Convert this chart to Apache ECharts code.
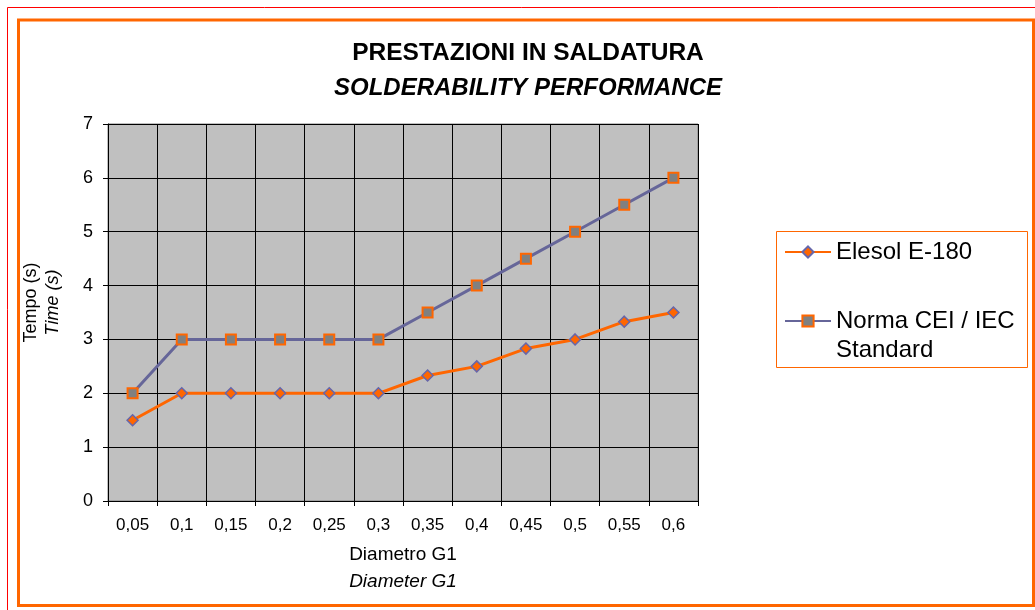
<!DOCTYPE html>
<html>
<head>
<meta charset="utf-8">
<script src="https://cdn.jsdelivr.net/npm/echarts@6/dist/echarts.min.js"></script>
<style>
  html, body { margin: 0; padding: 0; background: #fff; }
  #chart { width: 1035px; height: 610px; }
</style>
</head>
<body>
<div id="chart"></div>
<script>
const categories = ['0,05', '0,1', '0,15', '0,2', '0,25', '0,3', '0,35', '0,4', '0,45', '0,5', '0,55', '0,6']
const elesol = [1.5, 2, 2, 2, 2, 2, 2.33, 2.5, 2.83, 3, 3.33, 3.5]
const norma = [2, 3, 3, 3, 3, 3, 3.5, 4, 4.5, 5, 5.5, 6]
const seriesNames = ['Elesol E-180', 'Norma CEI / IEC Standard']

const font = 'Liberation Sans, Arial, sans-serif'
const chart = echarts.init(document.getElementById('chart'), null, { renderer: 'canvas' })

const legendText = {
  color: '#000',
  fontSize: 24,
  fontFamily: font,
  lineHeight: 29,
}

chart.setOption({
  backgroundColor: '#fff',
  animation: false,
  title: {
    text: 'PRESTAZIONI IN SALDATURA',
    subtext: 'SOLDERABILITY PERFORMANCE',
    left: 528,
    top: 41,
    textAlign: 'center',
    itemGap: 10,
    padding: 0,
    textStyle: { color: '#000', fontSize: 24.5, fontWeight: 'bold', fontFamily: font },
    subtextStyle: { color: '#000', fontSize: 24, fontWeight: 'bold', fontStyle: 'italic', fontFamily: font },
  },
  graphic: [
    // cornici esterne
    { type: 'rect', shape: { x: 7.5, y: 7.5, width: 1040, height: 620 }, style: { fill: 'none', stroke: '#FF0000', lineWidth: 1 }, silent: true },
    { type: 'rect', shape: { x: 18.5, y: 20, width: 1015, height: 585.5 }, style: { fill: 'none', stroke: '#FF6600', lineWidth: 3 }, silent: true },
    // riquadro legenda
    { type: 'rect', shape: { x: 776.5, y: 231.5, width: 251, height: 136 }, style: { fill: '#fff', stroke: '#FF6600', lineWidth: 1 }, silent: true, z: -1 },
  ],
  legend: [
    {
      data: [seriesNames[0]],
      left: 784,
      top: 237.5,
      padding: 0,
      itemWidth: 46,
      itemHeight: 14,
      itemGap: 0,
      selectedMode: false,
      textStyle: legendText,
    },
    {
      data: [seriesNames[1]],
      left: 784,
      top: 277.5,
      padding: 0,
      itemWidth: 46,
      itemHeight: 14,
      itemGap: 0,
      selectedMode: false,
      // riga vuota in testa: la prima riga di testo resta allineata al simbolo
      formatter: () => '\nNorma CEI / IEC\nStandard',
      textStyle: legendText,
    },
  ],
  grid: {
    left: 108,
    right: 337,
    top: 124,
    bottom: 109,
    show: true,
    backgroundColor: '#C0C0C0',
    borderColor: '#808080',
    borderWidth: 1,
  },
  xAxis: {
    type: 'category',
    data: categories,
    boundaryGap: true,
    name: '{a|Diametro G1}\n{b|Diameter G1}',
    nameLocation: 'middle',
    nameGap: 40,
    nameTextStyle: {
      rich: {
        a: { fontSize: 19, fontFamily: font, color: '#000', lineHeight: 27 },
        b: { fontSize: 19, fontFamily: font, color: '#000', fontStyle: 'italic', lineHeight: 27 },
      },
    },
    axisLine: { lineStyle: { color: '#000', width: 1 } },
    axisTick: { show: true, length: 5, lineStyle: { color: '#000' } },
    axisLabel: { color: '#000', fontSize: 17, fontFamily: font, margin: 16 },
    splitLine: { show: true, lineStyle: { color: '#000', width: 1 } },
  },
  yAxis: {
    type: 'value',
    min: 0,
    max: 7,
    interval: 1,
    name: '{a|Tempo (s)}\n{b|Time (s)}',
    nameLocation: 'middle',
    nameRotate: 90,
    nameGap: 45,
    nameTextStyle: {
      padding: [0, 0, 0, 20],
      rich: {
        a: { fontSize: 18, fontFamily: font, color: '#000', lineHeight: 21 },
        b: { fontSize: 18, fontFamily: font, color: '#000', fontStyle: 'italic', lineHeight: 21 },
      },
    },
    axisLine: { show: true, lineStyle: { color: '#000', width: 1 } },
    axisTick: { show: true, length: 5, lineStyle: { color: '#000' } },
    axisLabel: { color: '#000', fontSize: 18, fontFamily: font, margin: 15 },
    splitLine: { show: true, lineStyle: { color: '#000', width: 1 } },
  },
  series: [
    {
      name: seriesNames[0],
      type: 'line',
      data: elesol,
      symbol: 'diamond',
      symbolSize: 11,
      lineStyle: { color: '#FF6600', width: 3 },
      itemStyle: { color: '#FF6600', borderColor: '#6666AA', borderWidth: 1.5 },
      z: 3,
    },
    {
      name: seriesNames[1],
      type: 'line',
      data: norma,
      symbol: 'rect',
      symbolSize: 10,
      lineStyle: { color: '#666699', width: 3 },
      itemStyle: { color: '#808080', borderColor: '#FF6600', borderWidth: 2 },
      z: 2,
    },
  ],
})
</script>
</body>
</html>
